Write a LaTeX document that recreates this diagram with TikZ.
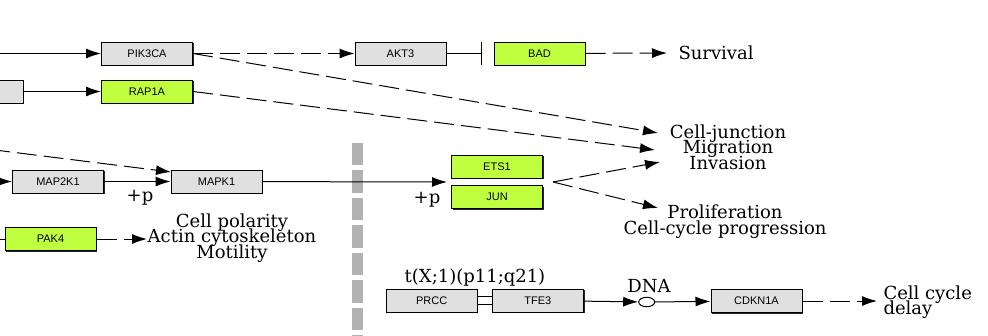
\documentclass[tikz,border=0pt]{standalone}
\usepackage{fontspec}
\usetikzlibrary{arrows.meta,shapes.geometric,shadows}
\newfontfamily\boxfont{Liberation Sans}
\newfontfamily\labfont{DejaVu Serif}
\newcommand\labsize{\labfont\fontsize{18}{15.5}\selectfont\setlength{\lineskiplimit}{-20pt}}
\definecolor{genegray}{RGB}{224,224,224}
\definecolor{genegreen}{RGB}{191,255,63}
\begin{document}
\begin{tikzpicture}[x=1pt,y=-1pt,line width=1pt,>={Latex[length=15pt,width=10pt]},
  gene/.style={draw,fill=genegray,minimum width=91pt,minimum height=23pt,inner sep=0pt,
    font=\boxfont\fontsize{11}{12}\selectfont,
    drop shadow={shadow xshift=1.2pt,shadow yshift=-1.2pt,fill=black!85,opacity=1}},
  hit/.style={gene,fill=genegreen},
  outcome/.style={font=\labsize,inner sep=0pt,align=center},
  dashline/.style={dash pattern=on 20pt off 7pt}]
        \useasboundingbox (0,0) rectangle (988,335);
        \clip (0,0) rectangle (988,335);
        \draw[line width=11.5pt,gray!60,dash pattern=on 22.5pt off 5pt] (357.5,142.7) -- (357.5,345);

        \node[gene] (pik3ca) at (147,53.5) {PIK3CA};
        \node[hit] (rap1a) at (147,91.5) {RAP1A};
        \node[gene] (ras) at (-22.5,91.5) {};
        \node[gene] (akt3) at (400.5,53.5) {AKT3};
        \node[hit] (bad) at (539.5,53.5) {BAD};
        \node[gene] (map2k1) at (58,181.5) {MAP2K1};
        \node[gene] (mapk1) at (216.5,181.5) {MAPK1};
        \node[hit] (ets1) at (497,166.5) {ETS1};
        \node[hit] (jun) at (497,197) {JUN};
        \node[hit] (pak4) at (50.5,239) {PAK4};
        \node[gene] (prcc) at (431.7,300.5) {PRCC};
        \node[gene] (tfe3) at (537.8,300.5) {TFE3};
        \node[gene] (cdkn1a) at (756.5,301) {CDKN1A};
        \node[draw,ellipse,fill=white,minimum width=16pt,minimum height=9.5pt,inner sep=0pt] (dna) at (646.7,302) {};

        \node[outcome,anchor=west] (survival) at (678,53) {Survival};
        \node[outcome] (junction) at (728,147) {Cell-junction\\Migration\\Invasion};
        \node[outcome] (prolif) at (725,221.5) {Proliferation\\Cell-cycle progression};
        \node[outcome] (polarity) at (232,238) {Cell polarity\\Actin cytoskeleton\\Motility};
        \node[outcome,align=left,anchor=west] (delay) at (883,302) {Cell cycle\\delay};
        \node[outcome] (plus1) at (140,198) {+p};
        \node[outcome] (plus2) at (427,200) {+p};
        \node[outcome] (dnalabel) at (649,286) {DNA};
        \node[outcome] (trans) at (475,278) {t(X;1)(p11;q21)};

        \coordinate (in1) at (-10,53.5);
        \coordinate (in2) at (-10,181.5);
        \coordinate (in3) at (-10,149.4);
        \coordinate (in4) at (-10,239);
        \coordinate (cj1) at (658,133);
        \coordinate (cj2) at (655,150);
        \coordinate (cj3) at (660,162);
        \coordinate (pr1) at (658,208);
        \coordinate (fan) at (553,182);
        \coordinate (nuc) at (447,182);
        \coordinate (mk) at (171,172);
        \coordinate (pol) at (147,239);
        \coordinate (blk) at (482,53.5);

        \draw[->] (in1) -- (pik3ca);
        \draw[->] (ras) -- (rap1a);
        \draw[->,dashline] (pik3ca) -- (akt3);
        \draw[-{Bar[width=23pt]}] (akt3) -- (blk);
        \draw[->,dashline,shorten >=11pt] (bad) -- (survival.west);
        \draw[->,dashline] (pik3ca.east) -- (cj1);
        \draw[->,dashline] (rap1a.east) -- (cj2);
        \draw[->] (in2) -- (map2k1);
        \draw[->,dashline] (in3) -- (mk);
        \draw[->] (map2k1) -- (mapk1);
        \draw[->] (mapk1) -- (nuc);
        \draw[->,dashline] (fan) -- (cj3);
        \draw[->,dashline] (fan) -- (pr1);
        \draw (in4) -- (pak4);
        \draw[->,dashline] (pak4) -- (pol);
        \draw[double distance=6.7pt] (prcc) -- (tfe3);
        \draw[->] (tfe3) -- (dna);
        \draw[->] (dna) -- (cdkn1a);
        \draw[->,dashline,shorten >=6pt] (cdkn1a.east) -- (cdkn1a.east -| delay.west);
      \end{tikzpicture}
\end{document}
